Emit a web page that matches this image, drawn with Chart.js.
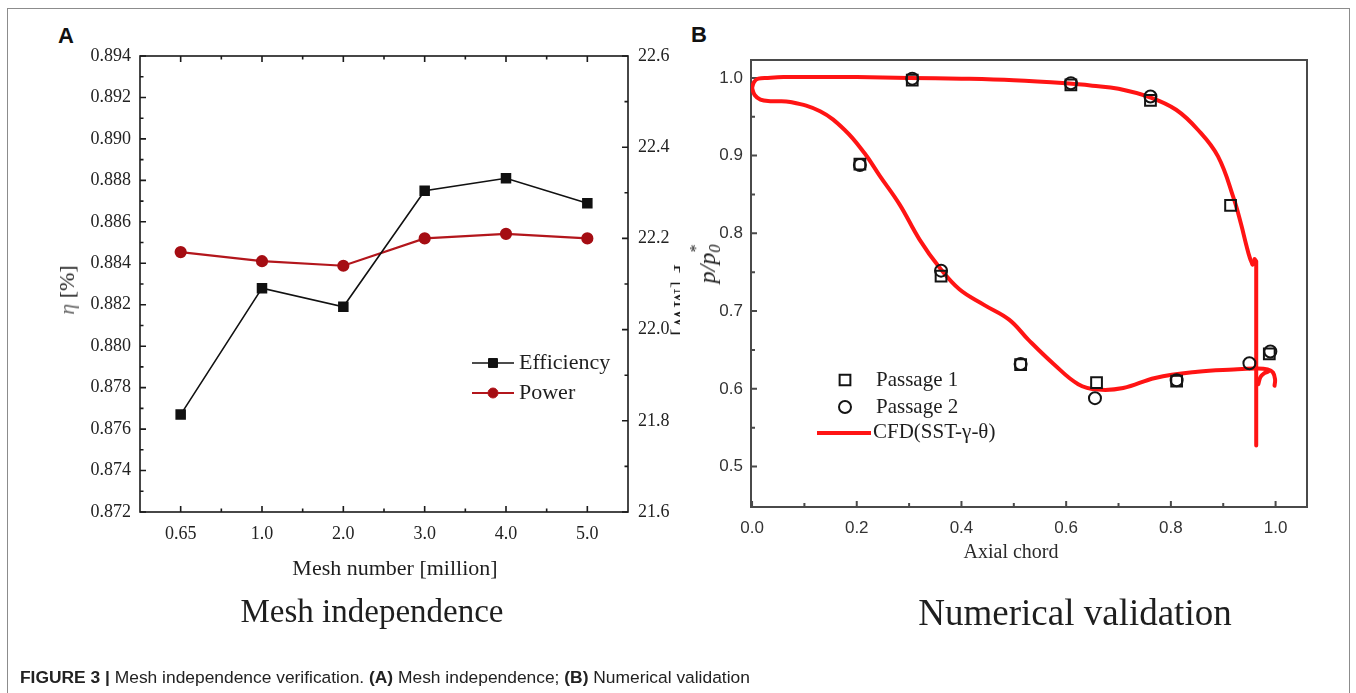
<!DOCTYPE html>
<html>
<head>
<meta charset="utf-8">
<script src="https://cdn.jsdelivr.net/npm/chart.js@4.4.1/dist/chart.umd.min.js"></script>
<style>
  html, body { margin: 0; padding: 0; background: #fff; width: 1356px; height: 693px; overflow: hidden; }
  #frame { position: absolute; left: 7px; top: 8px; width: 1343px; height: 700px; border: 1px solid #8c8c8c; box-sizing: border-box; pointer-events: none; }
  .panel { position: absolute; top: 0; height: 693px; }
  #panelA { left: 0; width: 680px; overflow: hidden; }
  #panelB { left: 680px; width: 676px; }
  canvas { position: absolute; left: 0; top: 0; }
  .t { position: absolute; transform: translate(-50%, -50%); white-space: nowrap; line-height: 1; color: #1e1e1e; }
  .serif { font-family: "Liberation Serif", "Times New Roman", serif; }
  .up { transform: translate(-50%, -50%) rotate(-90deg); }
  .down { transform: translate(-50%, -50%) rotate(90deg); }
  .tag { position: absolute; font: bold 22px "Liberation Sans", Arial, sans-serif; line-height: 1; color: #111; transform: translate(-50%, -50%); }
  #caption { position: absolute; left: 20px; top: 678px; transform: translateY(-50%); font: 17.4px "Liberation Sans", Arial, sans-serif; color: #222; white-space: nowrap; line-height: 1; }
  #caption b { font-weight: bold; }
  .sub0 { display: inline-block; position: relative; font-size: 0.68em; top: 0.28em; }
  .sub0 .star { position: absolute; left: 0.02em; top: -1.15em; font-style: normal; }
</style>
</head>
<body>
<div id="frame"></div>

<div class="tag" style="left:66px; top:36px;">A</div>
<div class="tag" style="left:699px; top:35px;">B</div>

<div id="panelA" class="panel">
  <canvas id="meshChart" width="680" height="600"></canvas>
  <div class="t serif up" style="left:67px; top:290px; font-size:22px;"><i style="color:#6a6a6a">η</i> [%]</div>
  <div class="t serif down" style="left:681px; top:300px; font-size:22px;">P [MW]</div>
  <div class="t serif" style="left:395px; top:568px; font-size:22px;">Mesh number [million]</div>
</div>

<div id="panelB" class="panel">
  <canvas id="validChart" width="676" height="600"></canvas>
  <div class="t serif up" style="left:27px; top:264px; font-size:24px; font-style:italic;">p/p<span class="sub0">0<span class="star">*</span></span></div>
  <div class="t serif" style="left:331px; top:551px; font-size:20px; color:#2a2a2a;">Axial chord</div>
</div>

<div class="t serif" style="left:372px; top:611px; font-size:33px;">Mesh independence</div>
<div class="t serif" style="left:1075px; top:612px; font-size:37px;">Numerical validation</div>

<div id="caption"><b>FIGURE 3 |</b> Mesh independence verification. <b>(A)</b> Mesh independence; <b>(B)</b> Numerical validation</div>

<script>
// ---------- Panel A: mesh independence ----------
const meshLabels = ['0.65', '1.0', '2.0', '3.0', '4.0', '5.0'];
const efficiency = [0.8767, 0.8828, 0.8819, 0.8875, 0.8881, 0.8869];
const power = [22.17, 22.15, 22.14, 22.20, 22.21, 22.20];
const etaTicks = [0.872, 0.874, 0.876, 0.878, 0.880, 0.882, 0.884, 0.886, 0.888, 0.890, 0.892, 0.894];
const powerTicks = [21.6, 21.8, 22.0, 22.2, 22.4, 22.6];

// ---------- Panel B: numerical validation ----------
const passage1X = [0.206, 0.306, 0.361, 0.513, 0.609, 0.658, 0.761, 0.811, 0.914, 0.988];
const passage1Y = [0.889, 0.997, 0.745, 0.631, 0.991, 0.608, 0.971, 0.610, 0.836, 0.645];
const passage2X = [0.206, 0.306, 0.361, 0.513, 0.609, 0.655, 0.761, 0.811, 0.950, 0.990];
const passage2Y = [0.888, 0.999, 0.752, 0.632, 0.993, 0.588, 0.976, 0.611, 0.633, 0.648];

// CFD pressure distribution: pressure side, trailing-edge segment, suction side, trailing-edge hook
const cfdUpperX = [0.000, 0.004, 0.012, 0.030, 0.060, 0.100, 0.200, 0.300, 0.400, 0.500, 0.600, 0.650, 0.700, 0.760, 0.810, 0.852, 0.890, 0.920, 0.934, 0.944, 0.951, 0.956];
const cfdUpperY = [0.987, 0.995, 0.999, 1.000, 1.001, 1.001, 1.001, 1.000, 0.999, 0.997, 0.993, 0.990, 0.986, 0.975, 0.959, 0.933, 0.899, 0.845, 0.812, 0.785, 0.768, 0.760];
const cfdTrailX = [0.956, 0.960, 0.963, 0.963, 0.963];
const cfdTrailY = [0.760, 0.767, 0.764, 0.650, 0.527];
const cfdLowerX = [0.000, 0.005, 0.016, 0.035, 0.073, 0.130, 0.177, 0.215, 0.244, 0.282, 0.320, 0.358, 0.396, 0.443, 0.491, 0.528, 0.576, 0.623, 0.661, 0.709, 0.770, 0.851, 0.920, 0.959, 0.985, 0.995, 0.999, 0.998];
const cfdLowerY = [0.987, 0.978, 0.972, 0.970, 0.969, 0.957, 0.933, 0.903, 0.874, 0.837, 0.792, 0.756, 0.728, 0.708, 0.689, 0.663, 0.632, 0.606, 0.599, 0.601, 0.614, 0.622, 0.625, 0.626, 0.625, 0.621, 0.612, 0.604];
const cfdHookX = [0.967, 0.971, 0.978, 0.986];
const cfdHookY = [0.606, 0.615, 0.620, 0.622];

const chordTicks = [0.0, 0.2, 0.4, 0.6, 0.8, 1.0];
const chordMinor = [0.1, 0.3, 0.5, 0.7, 0.9];
const ratioTicks = [0.5, 0.6, 0.7, 0.8, 0.9, 1.0];
const ratioMinor = [0.55, 0.65, 0.75, 0.85, 0.95];

const pts = (xs, ys) => xs.map((x, i) => ({ x, y: ys[i] }));
const serif = 'Liberation Serif, Times New Roman, serif';
const sans = 'Liberation Sans, Arial, sans-serif';

Chart.defaults.font.family = serif;
Chart.defaults.animation = false;

// Boxed frame with inward tick marks for the mesh panel, plus its legend
const meshFrame = {
  id: 'meshFrame',
  beforeDatasetsDraw(chart) {
    const { ctx, chartArea: a, scales: { x, y, y1 } } = chart;
    ctx.save();
    ctx.strokeStyle = '#1a1a1a';
    ctx.lineWidth = 1.6;
    ctx.strokeRect(a.left, a.top, a.right - a.left, a.bottom - a.top);
    ctx.beginPath();
    const xs = meshLabels.map((_, i) => x.getPixelForTick(i));
    xs.forEach(px => {
      ctx.moveTo(px, a.bottom); ctx.lineTo(px, a.bottom - 6);
      ctx.moveTo(px, a.top); ctx.lineTo(px, a.top + 6);
    });
    for (let i = 0; i < xs.length - 1; i++) {
      const px = (xs[i] + xs[i + 1]) / 2;
      ctx.moveTo(px, a.bottom); ctx.lineTo(px, a.bottom - 3.5);
      ctx.moveTo(px, a.top); ctx.lineTo(px, a.top + 3.5);
    }
    etaTicks.forEach((v, i) => {
      const py = y.getPixelForValue(v);
      ctx.moveTo(a.left, py); ctx.lineTo(a.left + 6, py);
      if (i < etaTicks.length - 1) {
        const pm = y.getPixelForValue((v + etaTicks[i + 1]) / 2);
        ctx.moveTo(a.left, pm); ctx.lineTo(a.left + 3.5, pm);
      }
    });
    powerTicks.forEach((v, i) => {
      const py = y1.getPixelForValue(v);
      ctx.moveTo(a.right, py); ctx.lineTo(a.right - 6, py);
      if (i < powerTicks.length - 1) {
        const pm = y1.getPixelForValue((v + powerTicks[i + 1]) / 2);
        ctx.moveTo(a.right, pm); ctx.lineTo(a.right - 3.5, pm);
      }
    });
    ctx.stroke();
    ctx.restore();
  },
  afterDraw(chart) {
    const { ctx } = chart;
    const rows = [
      { ds: chart.data.datasets[0], y: 363 },
      { ds: chart.data.datasets[1], y: 393 }
    ];
    ctx.save();
    rows.forEach(r => {
      ctx.strokeStyle = r.ds.borderColor;
      ctx.lineWidth = r.ds.borderWidth;
      ctx.beginPath(); ctx.moveTo(472, r.y); ctx.lineTo(514, r.y); ctx.stroke();
      ctx.fillStyle = r.ds.pointBackgroundColor;
      ctx.strokeStyle = r.ds.borderColor;
      ctx.lineWidth = 1;
      Chart.helpers.drawPoint(ctx, { pointStyle: r.ds.pointStyle, radius: r.ds.pointRadius, borderWidth: 1, rotation: 0 }, 493, r.y);
      ctx.fillStyle = '#1e1e1e';
      ctx.font = '22px ' + serif;
      ctx.textBaseline = 'middle';
      ctx.textAlign = 'left';
      ctx.fillText(r.ds.label, 519, r.y);
    });
    ctx.restore();
  }
};

new Chart(document.getElementById('meshChart'), {
  type: 'line',
  data: {
    labels: meshLabels,
    datasets: [
      {
        label: 'Efficiency', data: efficiency, yAxisID: 'y',
        borderColor: '#111111', borderWidth: 1.6, tension: 0,
        pointStyle: 'rect', pointRadius: 6.3,
        pointBackgroundColor: '#111111', pointBorderColor: '#111111'
      },
      {
        label: 'Power', data: power, yAxisID: 'y1',
        borderColor: '#b3161c', borderWidth: 2.2, tension: 0,
        pointStyle: 'circle', pointRadius: 5,
        pointBackgroundColor: '#a50d13', pointBorderColor: '#a50d13'
      }
    ]
  },
  options: {
    responsive: false,
    events: [],
    layout: { padding: { top: 56, left: 0, right: 0, bottom: 0 } },
    plugins: { legend: { display: false }, tooltip: { enabled: false } },
    scales: {
      x: {
        type: 'category', offset: true,
        grid: { display: false, drawTicks: false },
        border: { display: false },
        ticks: { font: { size: 18, family: serif }, color: '#222', padding: 11, maxRotation: 0, autoSkip: false },
        afterFit: s => { s.height = 88; }
      },
      y: {
        position: 'left', min: 0.872, max: 0.894,
        grid: { display: false, drawTicks: false },
        border: { display: false },
        afterBuildTicks: s => { s.ticks = etaTicks.map(v => ({ value: v })); },
        ticks: { font: { size: 18, family: serif }, color: '#222', padding: 9, callback: v => Number(v).toFixed(3) },
        afterFit: s => { s.width = 140; }
      },
      y1: {
        position: 'right', min: 21.6, max: 22.6,
        grid: { display: false, drawTicks: false },
        border: { display: false },
        afterBuildTicks: s => { s.ticks = powerTicks.map(v => ({ value: v })); },
        ticks: { font: { size: 18, family: serif }, color: '#222', padding: 10, callback: v => Number(v).toFixed(1) },
        afterFit: s => { s.width = 52; }
      }
    }
  },
  plugins: [meshFrame]
});

// Frame, inward ticks and legend for the validation panel
const validFrame = {
  id: 'validFrame',
  beforeDatasetsDraw(chart) {
    const { ctx, chartArea: a, scales: { x, y } } = chart;
    ctx.save();
    ctx.strokeStyle = '#4a4a4a';
    ctx.lineWidth = 2;
    ctx.strokeRect(a.left, a.top, a.right - a.left, a.bottom - a.top);
    ctx.beginPath();
    chordTicks.forEach(v => { const p = x.getPixelForValue(v); ctx.moveTo(p, a.bottom); ctx.lineTo(p, a.bottom - 6); });
    chordMinor.forEach(v => { const p = x.getPixelForValue(v); ctx.moveTo(p, a.bottom); ctx.lineTo(p, a.bottom - 4); });
    ratioTicks.forEach(v => { const p = y.getPixelForValue(v); ctx.moveTo(a.left, p); ctx.lineTo(a.left + 6, p); });
    ratioMinor.forEach(v => { const p = y.getPixelForValue(v); ctx.moveTo(a.left, p); ctx.lineTo(a.left + 4, p); });
    ctx.stroke();
    ctx.restore();
  },
  afterDraw(chart) {
    const { ctx } = chart;
    const ds = chart.data.datasets;
    ctx.save();
    ctx.font = '21px ' + serif;
    ctx.textBaseline = 'middle';
    ctx.textAlign = 'left';
    [[ds[0], 380], [ds[1], 407]].forEach(([d, yy]) => {
      ctx.strokeStyle = d.pointBorderColor;
      ctx.fillStyle = 'rgba(0,0,0,0)';
      ctx.lineWidth = d.pointBorderWidth;
      Chart.helpers.drawPoint(ctx, { pointStyle: d.pointStyle, radius: d.pointRadius, borderWidth: d.pointBorderWidth, rotation: 0 }, 165, yy);
      ctx.fillStyle = '#1e1e1e';
      ctx.fillText(d.label, 196, yy);
    });
    const c = ds[2];
    ctx.strokeStyle = c.borderColor;
    ctx.lineWidth = c.borderWidth;
    ctx.beginPath(); ctx.moveTo(137, 433); ctx.lineTo(191, 433); ctx.stroke();
    ctx.fillStyle = '#1e1e1e';
    ctx.fillText(c.label, 193, 432);
    ctx.restore();
  }
};

const cfdStyle = { showLine: true, pointRadius: 0, borderColor: '#ff1414', borderWidth: 4, tension: 0.4, fill: false, borderCapStyle: 'round', borderJoinStyle: 'round' };

new Chart(document.getElementById('validChart'), {
  type: 'scatter',
  data: {
    datasets: [
      {
        label: 'Passage 1', data: pts(passage1X, passage1Y),
        pointStyle: 'rect', pointRadius: 7.6, pointBorderWidth: 2,
        pointBorderColor: '#141414', pointBackgroundColor: 'rgba(255,255,255,0)'
      },
      {
        label: 'Passage 2', data: pts(passage2X, passage2Y),
        pointStyle: 'circle', pointRadius: 6, pointBorderWidth: 2,
        pointBorderColor: '#141414', pointBackgroundColor: 'rgba(255,255,255,0)'
      },
      Object.assign({ label: 'CFD(SST-γ-θ)', data: pts(cfdUpperX, cfdUpperY) }, cfdStyle),
      Object.assign({ label: 'CFD(SST-γ-θ)', data: pts(cfdTrailX, cfdTrailY) }, cfdStyle, { tension: 0 }),
      Object.assign({ label: 'CFD(SST-γ-θ)', data: pts(cfdLowerX, cfdLowerY) }, cfdStyle),
      Object.assign({ label: 'CFD(SST-γ-θ)', data: pts(cfdHookX, cfdHookY) }, cfdStyle)
    ]
  },
  options: {
    responsive: false,
    events: [],
    layout: { padding: { top: 60, left: 0, right: 49, bottom: 0 } },
    plugins: { legend: { display: false }, tooltip: { enabled: false } },
    scales: {
      x: {
        type: 'linear', min: -0.002, max: 1.06,
        grid: { display: false, drawTicks: false },
        border: { display: false },
        afterBuildTicks: s => { s.ticks = chordTicks.map(v => ({ value: v })); },
        ticks: { font: { size: 17, family: sans }, color: '#333', padding: 11, callback: v => Number(v).toFixed(1) },
        afterFit: s => { s.height = 93; }
      },
      y: {
        type: 'linear', min: 0.448, max: 1.023,
        grid: { display: false, drawTicks: false },
        border: { display: false },
        afterBuildTicks: s => { s.ticks = ratioTicks.map(v => ({ value: v })); },
        ticks: { font: { size: 17, family: sans }, color: '#333', padding: 8, callback: v => Number(v).toFixed(1) },
        afterFit: s => { s.width = 71; }
      }
    }
  },
  plugins: [validFrame]
});
</script>
</body>
</html>
